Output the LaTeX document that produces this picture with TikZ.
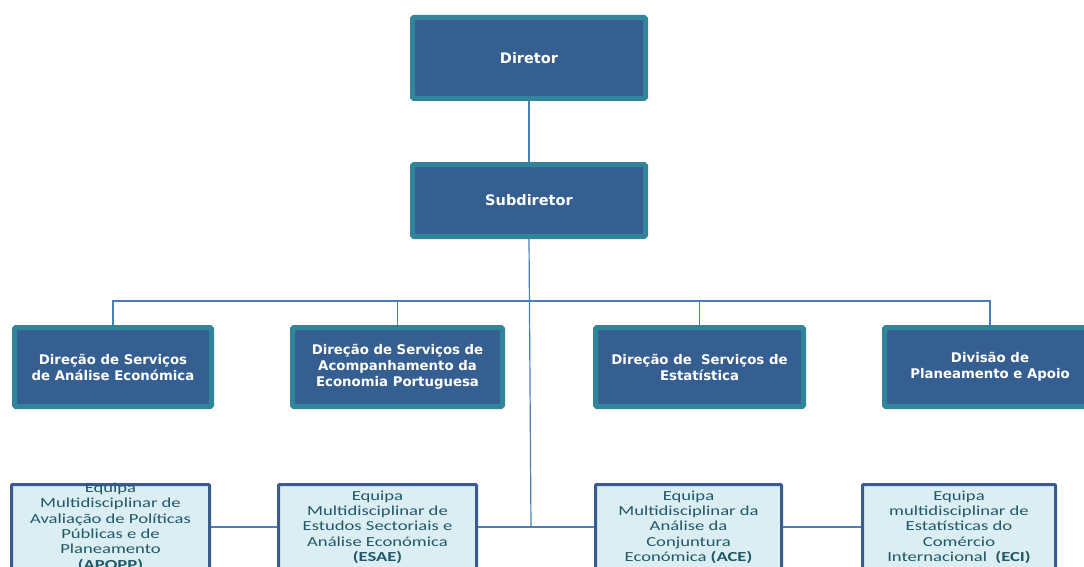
\documentclass[tikz,border=0pt]{standalone}
\usepackage{fontspec}
\newfontfamily\topfont{DejaVu Sans}
\newfontfamily\botfont[FakeStretch=1.35]{Carlito}
\definecolor{boxfill}{RGB}{54,95,145}
\definecolor{boxedge}{RGB}{49,133,155}
\definecolor{lightfill}{RGB}{219,238,243}
\definecolor{lightedge}{RGB}{58,92,140}
\definecolor{linkc}{RGB}{74,126,187}
\definecolor{teamtext}{RGB}{32,88,103}
\newcommand{\teamtext}[1]{\raisebox{-3.4pt}[0pt][0pt]{\begin{tabular}{@{}c@{}}#1\end{tabular}}}
\begin{document}
\begin{tikzpicture}[x=1pt,y=-1pt,
  dark/.style={draw=boxedge, fill=boxfill, line width=5pt, rounded corners=1.5pt,
    text=white, align=center, inner sep=0pt, font=\topfont\bfseries\fontsize{13.3}{16}\selectfont},
  bigdark/.style={dark, font=\topfont\bfseries\fontsize{14.5}{17}\selectfont},
  light/.style={draw=lightedge, fill=lightfill, line width=3pt, rounded corners=1pt,
    text=teamtext, inner sep=0pt, font=\botfont\fontsize{13.8}{15.4}\selectfont},
  link/.style={draw=linkc, line width=1.2pt}]
\useasboundingbox (0,0) rectangle (1084,567);
\clip (0,0) rectangle (1084,567);

% top
\node[bigdark, minimum width=233, minimum height=81] (dir) at (529,58) {Diretor};
\node[bigdark, minimum width=233, minimum height=72] (sub) at (529,200.5) {Subdiretor};

% second row
\node[dark, minimum width=197, minimum height=79] (dsae) at (113,367)
  {Direção de Serviços\\de Análise Económica};
\node[dark, minimum width=210, minimum height=79] (dsaep) at (397.5,367)
  {Direção de Serviços de\\Acompanhamento da\\Economia Portuguesa};
\node[dark, minimum width=208, minimum height=79] (dse) at (699.5,367)
  {Direção de~ Serviços de\\Estatística};
\node[dark, minimum width=211, minimum height=79] (dpa) at (990,367)
  {Divisão de\\Planeamento e Apoio};

% third row
\node[light, minimum width=198, minimum height=87] (apopp) at (110.5,528)
  {\teamtext{Equipa\\Multidisciplinar de\\Avaliação de Políticas\\Públicas e de\\Planeamento\\\textbf{(APOPP)}}};
\node[light, minimum width=198, minimum height=87] (esae) at (377.5,528)
  {\teamtext{Equipa\\Multidisciplinar de\\Estudos Sectoriais e\\Análise Económica\\\textbf{(ESAE)}}};
\node[light, minimum width=186, minimum height=87] (ace) at (688.5,528)
  {\teamtext{Equipa\\Multidisciplinar da\\Análise da\\Conjuntura\\Económica \textbf{(ACE)}}};
\node[light, minimum width=193, minimum height=87] (eci) at (959,528)
  {\teamtext{Equipa\\multidisciplinar de\\Estatísticas do\\Comércio\\Internacional~ \textbf{(ECI)}}};

% connectors
\coordinate (bus) at (530,301);
\coordinate (hub) at (531,527);
\draw[link] (dir.south) -- (sub.north);
\draw[link] (sub.south) -- (hub);
\draw[link] (dsae.north) |- (bus) -| (dpa.north);
\draw[link] (dsaep.north) -- (dsaep.north |- bus);
\draw[link] (dse.north) -- (dse.north |- bus);
\draw[link] (apopp.east |- hub) -- (esae.west |- hub);
\draw[link] (esae.east |- hub) -- (ace.west |- hub);
\draw[link] (ace.east |- hub) -- (eci.west |- hub);
\end{tikzpicture}
\end{document}
